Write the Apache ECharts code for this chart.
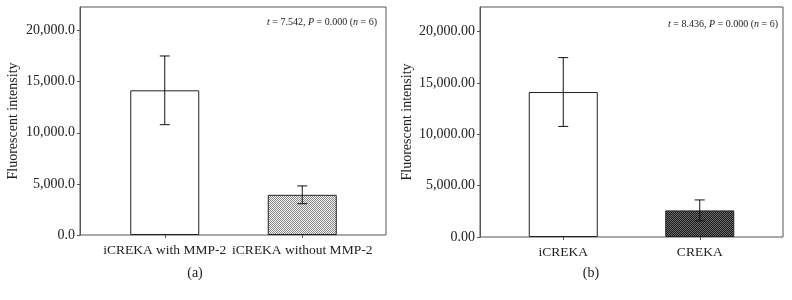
<!DOCTYPE html>
<html>
<head>
<meta charset="utf-8">
<script src="https://cdn.jsdelivr.net/npm/echarts@6/dist/echarts.min.js"></script>
<style>
  html, body { margin: 0; padding: 0; background: #fff; }
  #chart { width: 792px; height: 300px; }
</style>
</head>
<body>
<div id="chart"></div>
<script>
// panel (a)
const catsA = ['iCREKA with MMP-2', 'iCREKA without MMP-2'];
const meanA = [14150, 3930];
const sdA = [3360, 870];
// panel (b)
const catsB = ['iCREKA', 'CREKA'];
const meanB = [14120, 2590];
const sdB = [3350, 1020];
const yTicks = [0, 5000, 10000, 15000, 20000];

const FONT = '"Liberation Serif", "DejaVu Serif", serif';

// tiny checkerboard fill like the printed hatch
const checker = (a, b) => {
    const c = document.createElement('canvas');
    c.width = 2; c.height = 2;
    const ctx = c.getContext('2d');
    ctx.fillStyle = a; ctx.fillRect(0, 0, 2, 2);
    ctx.fillStyle = b; ctx.fillRect(0, 0, 1, 1); ctx.fillRect(1, 1, 1, 1);
    return c;
};
const lightFill = { image: checker('#f4f4f4', '#888888'), repeat: 'repeat' };
const darkFill = { image: checker('#1c1c1c', '#6a6a6a'), repeat: 'repeat' };

const fmt = (digits) => (v) => v.toLocaleString('en-US', { minimumFractionDigits: digits, maximumFractionDigits: digits });

const errData = (means, sds) => means.map((m, i) => [i, m + sds[i], m - sds[i]]);

const renderErr = (params, api) => {
    const x = api.value(0);
    const hi = api.coord([x, api.value(1)]);
    const lo = api.coord([x, api.value(2)]);
    const cap = 5;
    const style = { stroke: '#111', lineWidth: 1 };
    return {
        type: 'group',
        children: [
            { type: 'line', shape: { x1: hi[0], y1: hi[1], x2: lo[0], y2: lo[1] }, style },
            { type: 'line', shape: { x1: hi[0] - cap, y1: hi[1], x2: hi[0] + cap, y2: hi[1] }, style },
            { type: 'line', shape: { x1: lo[0] - cap, y1: lo[1], x2: lo[0] + cap, y2: lo[1] }, style }
        ]
    };
};

const outerY = (grid, max, digits, gap) => ({
    type: 'value', gridIndex: grid, min: 0, max: max, interval: 5000,
    name: 'Fluorescent intensity', nameLocation: 'middle', nameGap: gap,
    nameTextStyle: { fontFamily: FONT, fontSize: 14, color: '#222' },
    axisLine: { show: true, lineStyle: { color: '#555' } },
    axisTick: { show: true, length: 3, inside: false, customValues: yTicks, lineStyle: { color: '#555' } },
    axisLabel: { fontFamily: FONT, fontSize: 14, color: '#222', margin: 5, customValues: yTicks, formatter: fmt(digits) },
    splitLine: { show: false }
});
const innerY = (grid, max) => ({ type: 'value', gridIndex: grid, min: 0, max: max, show: false, splitLine: { show: false } });
const outerX = (grid) => ({ type: 'value', gridIndex: grid, min: 0, max: 1, show: false, splitLine: { show: false } });
const innerX = (grid, cats) => ({
    type: 'category', gridIndex: grid, data: cats,
    axisLine: { show: false },
    axisTick: { show: true, alignWithLabel: true, length: 3, lineStyle: { color: '#555' } },
    axisLabel: { fontFamily: FONT, fontSize: 13.5, color: '#222', margin: 8, interval: 0, hideOverlap: false }
});

const statText = (tVal) => '{i|t} = ' + tVal + ', {i|P} = 0.000 ({i|n} = 6)';
const statRich = {
    fontFamily: FONT, fontSize: 10, color: '#222', fontWeight: 'normal',
    rich: { i: { fontFamily: FONT, fontSize: 10, fontStyle: 'italic', color: '#222' } }
};
const capStyle = { fontFamily: FONT, fontSize: 14, color: '#222', fontWeight: 'normal' };

const chart = echarts.init(document.getElementById('chart'), null, { renderer: 'canvas' });
chart.setOption({
    backgroundColor: '#fff',
    animation: false,
    title: [
        { text: statText('7.542'), right: 415, top: 17, padding: 0, textStyle: statRich },
        { text: statText('8.436'), right: 14, top: 19, padding: 0, textStyle: statRich },
        { text: '(a)', left: 195, top: 266, padding: 0, textAlign: 'center', textStyle: capStyle },
        { text: '(b)', left: 591, top: 266, padding: 0, textAlign: 'center', textStyle: capStyle }
    ],
    grid: [
        { left: 80, top: 7, width: 306, height: 228, show: true, borderColor: '#555', borderWidth: 1, backgroundColor: 'transparent' },
        { left: 96, top: 7, width: 275, height: 228 },
        { left: 480, top: 7, width: 303, height: 230, show: true, borderColor: '#555', borderWidth: 1, backgroundColor: 'transparent' },
        { left: 495, top: 7, width: 273, height: 230 }
    ],
    xAxis: [outerX(0), innerX(1, catsA), outerX(2), innerX(3, catsB)],
    yAxis: [outerY(0, 22300, 1, 60), innerY(1, 22300), outerY(2, 22400, 2, 66), innerY(3, 22400)],
    series: [
        {
            type: 'bar', xAxisIndex: 1, yAxisIndex: 1, barWidth: 69,
            data: meanA.map((v, i) => ({ value: v, itemStyle: { color: i === 0 ? '#fff' : lightFill } })),
            itemStyle: { borderColor: '#222', borderWidth: 1 }
        },
        { type: 'custom', xAxisIndex: 1, yAxisIndex: 1, data: errData(meanA, sdA), renderItem: renderErr, z: 5 },
        {
            type: 'bar', xAxisIndex: 3, yAxisIndex: 3, barWidth: 69,
            data: meanB.map((v, i) => ({ value: v, itemStyle: { color: i === 0 ? '#fff' : darkFill } })),
            itemStyle: { borderColor: '#222', borderWidth: 1 }
        },
        { type: 'custom', xAxisIndex: 3, yAxisIndex: 3, data: errData(meanB, sdB), renderItem: renderErr, z: 5 }
    ]
});
</script>
</body>
</html>
